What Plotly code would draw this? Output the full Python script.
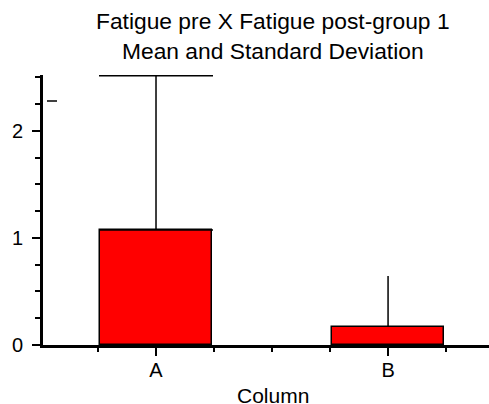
import plotly.graph_objects as go

categories = ["A", "B"]
means = [1.075, 0.168]
std_devs = [1.44, 0.477]

FONT = "Liberation Sans, Arial, Helvetica, sans-serif"

fig = go.Figure()
cap_widths = [57, 0]
for i, (cat, m, sd) in enumerate(zip(categories, means, std_devs)):
    fig.add_trace(go.Bar(
        x=[i], y=[m], width=0.483,
        marker=dict(color="#ff0000", line=dict(color="black", width=1.5)),
        error_y=dict(type="data", array=[sd], symmetric=False, arrayminus=[0],
                     color="black", thickness=1.5, width=cap_widths[i]),
        showlegend=False, name=cat,
    ))

fig.update_layout(
    width=489, height=404,
    margin=dict(l=43, r=0, t=75, b=59),
    paper_bgcolor="white", plot_bgcolor="white",
    font=dict(family=FONT, size=20, color="black"),
    bargap=0,
)
fig.update_xaxes(
    range=[-0.487, 1.435], automargin=False,
    tickvals=list(range(len(categories))), ticktext=categories,
    showgrid=False, zeroline=False,
    showline=True, linecolor="black", linewidth=3,
    ticks="outside", ticklen=8, tickwidth=1.5, tickcolor="black",
    minor=dict(tick0=0, dtick=0.25, ticks="outside", ticklen=4, tickwidth=1.5, tickcolor="black"),
    tickfont=dict(size=20),
    ticklabelstandoff=-3,
)
fig.update_yaxes(
    range=[0, 2.523], automargin=False,
    tickvals=[0, 1, 2],
    showgrid=False, zeroline=False,
    showline=True, linecolor="black", linewidth=3,
    ticks="outside", ticklen=8, tickwidth=1.5, tickcolor="black",
    minor=dict(tick0=0, dtick=0.25, ticks="outside", ticklen=5, tickwidth=1.5, tickcolor="black"),
    tickfont=dict(size=20),
    ticklabelstandoff=5,
)
fig.add_annotation(
    text="Fatigue pre X Fatigue post-group 1<br>Mean and Standard Deviation",
    xref="paper", yref="paper", x=0.516, y=1.0, yshift=69,
    xanchor="center", yanchor="top", showarrow=False,
    font=dict(size=22.8, family=FONT),
)
fig.add_annotation(
    text="Column",
    xref="paper", yref="paper", x=0.516, y=0, yshift=-50,
    xanchor="center", yanchor="middle", showarrow=False,
    font=dict(size=21, family=FONT),
)
# small dash near top of the y-axis
fig.add_shape(type="line", xref="paper", yref="paper",
              x0=4 / 446, x1=14 / 446, y0=(345 - 101) / 270, y1=(345 - 101) / 270,
              line=dict(color="black", width=1.5))

fig.write_html("out.html", config={"displayModeBar": False},
               post_script="document.body.style.margin='0';document.body.style.padding='0';")
